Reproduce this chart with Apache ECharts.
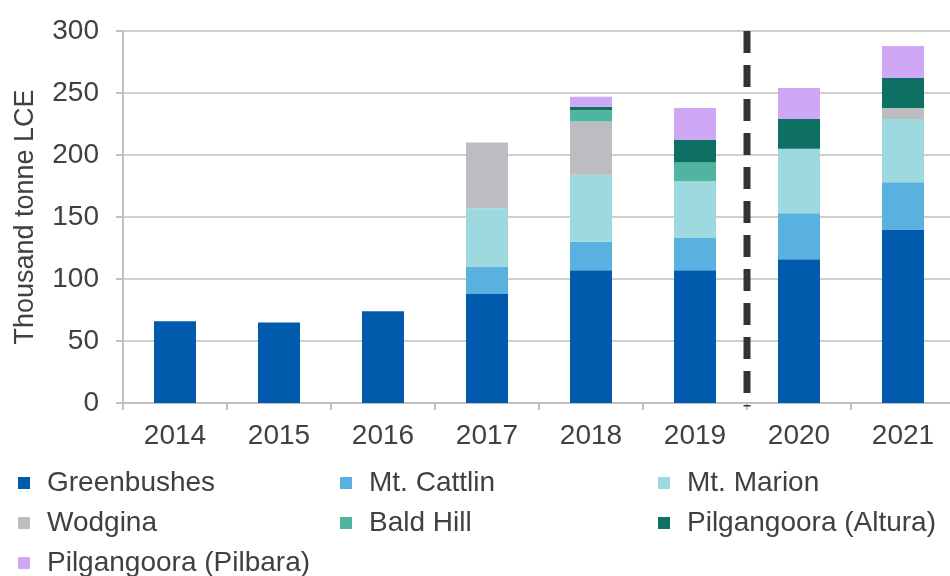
<!DOCTYPE html>
<html>
<head>
<meta charset="utf-8">
<script src="https://cdn.jsdelivr.net/npm/echarts@6/dist/echarts.min.js"></script>
<style>
	html, body { margin: 0; padding: 0; background: #fff; overflow: hidden; }
	/* the source chart is cut off on the right and bottom, so the canvas runs a little past the window */
	#main { width: 960px; height: 590px; }
</style>
</head>
<body>
<div id="main"></div>
<script>
	var years = ['2014', '2015', '2016', '2017', '2018', '2019', '2020', '2021'];
	var greenbushes = [66, 65, 74, 88, 107, 107, 116, 140];
	var mtCattlin = [0, 0, 0, 22, 23, 26, 37, 38];
	var mtMarion = [0, 0, 0, 47, 54, 46, 52, 51];
	var wodgina = [0, 0, 0, 53, 43, 0, 0, 9];
	var baldHill = [0, 0, 0, 0, 9, 15, 0, 0];
	var altura = [0, 0, 0, 0, 3, 18, 24, 24];
	var pilbara = [0, 0, 0, 0, 8, 26, 25, 26];
	var yTicks = [0, 50, 100, 150, 200, 250, 300];
	// forecast split sits on the boundary between 2019 and 2020
	var splitAt = 6;

	var textColor = '#404040';
	var font = 'Liberation Sans, Arial, sans-serif';

	var names = ['Greenbushes', 'Mt. Cattlin', 'Mt. Marion', 'Wodgina', 'Bald Hill', 'Pilgangoora (Altura)', 'Pilgangoora (Pilbara)'];
	var values = [greenbushes, mtCattlin, mtMarion, wodgina, baldHill, altura, pilbara];
	var colors = ['#005bac', '#58b1de', '#9fd9e0', '#bbbdc0', '#50b5a0', '#0e7062', '#cfa8f5'];

	var series = names.map(function (n, i) {
		return {
			name: n,
			type: 'bar',
			stack: 'total',
			barWidth: 42,
			itemStyle: { color: colors[i] },
			data: values[i].map(function (v) { return v === 0 ? null : v; })
		};
	});
	series.push({
		name: 'split',
		type: 'line',
		xAxisIndex: 1,
		symbol: 'none',
		silent: true,
		lineStyle: { color: '#333333', width: 7, type: [22, 12], cap: 'butt' },
		data: [[splitAt, yTicks[yTicks.length - 1]], [splitAt, -6]]
	});

	function legendCol(items, left) {
		return {
			orient: 'vertical',
			left: left,
			top: 469,
			height: 112,
			padding: 0,
			itemWidth: 12,
			itemHeight: 12,
			itemGap: 12,
			icon: 'rect',
			data: items,
			textStyle: { color: textColor, fontSize: 28, fontFamily: font, lineHeight: 28, padding: [0, 0, 0, 12] }
		};
	}

	var myChart = echarts.init(document.getElementById('main'));
	myChart.setOption({
		animation: false,
		color: colors,
		grid: { left: 123, top: 31, width: 832, height: 372 },
		legend: [
			legendCol(['Greenbushes', 'Wodgina', 'Pilgangoora (Pilbara)'], 18),
			legendCol(['Mt. Cattlin', 'Bald Hill'], 340),
			legendCol(['Mt. Marion', 'Pilgangoora (Altura)'], 658)
		],
		xAxis: [
			{
				type: 'category',
				data: years,
				axisLine: { lineStyle: { color: '#c0c0c0', width: 2 } },
				axisTick: { show: true, length: 7, lineStyle: { color: '#c0c0c0', width: 2 } },
				axisLabel: { color: textColor, fontSize: 28, fontFamily: font, margin: 19 }
			},
			{
				type: 'value',
				min: 0,
				max: years.length,
				show: false
			}
		],
		yAxis: {
			type: 'value',
			min: 0,
			max: 300,
			interval: 50,
			name: 'Thousand tonne LCE',
			nameLocation: 'middle',
			nameGap: 84,
			nameTextStyle: { color: textColor, fontSize: 27, fontFamily: font },
			axisLine: { show: true, lineStyle: { color: '#c0c0c0', width: 2 } },
			axisTick: { show: true, length: 7, lineStyle: { color: '#c0c0c0', width: 2 } },
			axisLabel: { color: textColor, fontSize: 28, fontFamily: font, margin: 24 },
			splitLine: { show: true, lineStyle: { color: '#d0d0d0', width: 2 } }
		},
		series: series
	});
</script>
</body>
</html>
